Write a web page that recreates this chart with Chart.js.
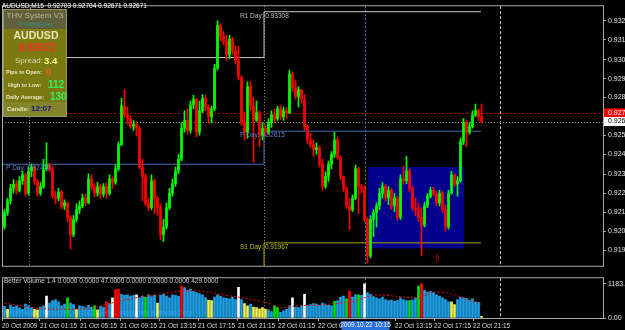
<!DOCTYPE html>
<html>
<head>
<meta charset="utf-8">
<title>AUDUSD,M15</title>
<script src="https://cdn.jsdelivr.net/npm/chart.js@4.4.1/dist/chart.umd.min.js"></script>
<style>
    html, body { margin: 0; padding: 0; background: #000; }
    #wrap { position: relative; width: 625px; height: 330px; overflow: hidden; background: #000; }
    #price-canvas { position: absolute; left: 0; top: 0; }
    #volume-canvas { position: absolute; left: 0; top: 272px; }
</style>
</head>
<body>
<div id="wrap">
    <canvas id="price-canvas" width="625" height="272"></canvas>
    <canvas id="volume-canvas" width="625" height="58"></canvas>
</div>
<script>
// AUDUSD M15 candles, open of each bar = close of the previous one
const firstOpen = 0.92059;
const closes = [
    0.92143, 0.92210, 0.92283, 0.92306, 0.92272, 0.92328, 0.92362, 0.92255, 0.92384, 0.92407,
    0.92323, 0.92255, 0.92294, 0.92396, 0.92418, 0.92396, 0.92238, 0.92227, 0.92261, 0.92182,
    0.92199, 0.92115, 0.92014, 0.92103, 0.92160, 0.92182, 0.92227, 0.92199, 0.92339, 0.92294,
    0.92255, 0.92294, 0.92249, 0.92294, 0.92255, 0.92339, 0.92317, 0.92396, 0.92536, 0.92761,
    0.92710, 0.92688, 0.92643, 0.92654, 0.92632, 0.92407, 0.92351, 0.92199, 0.92171, 0.92328,
    0.92227, 0.92171, 0.92014, 0.92059, 0.92171, 0.92255, 0.92311, 0.92384, 0.92452, 0.92632,
    0.92677, 0.92620, 0.92767, 0.92800, 0.92609, 0.92733, 0.92806, 0.92755, 0.92699, 0.92744,
    0.92980, 0.93227, 0.93165, 0.93137, 0.93059, 0.93149, 0.93081, 0.93025, 0.92930, 0.92665,
    0.92609, 0.92873, 0.92761, 0.92677, 0.92722, 0.92592, 0.92632, 0.92609, 0.92665, 0.92710,
    0.92688, 0.92744, 0.92699, 0.92733, 0.92722, 0.92946, 0.92868, 0.92817, 0.92856, 0.92800,
    0.92643, 0.92564, 0.92536, 0.92508, 0.92519, 0.92424, 0.92294, 0.92351, 0.92424, 0.92480,
    0.92564, 0.92463, 0.92351, 0.92283, 0.92182, 0.92160, 0.92227, 0.92396, 0.92294, 0.92283,
    0.92103, 0.91891, 0.92103, 0.92143, 0.92182, 0.92255, 0.92294, 0.92227, 0.92272, 0.92182,
    0.92227, 0.92115, 0.92339, 0.92328, 0.92384, 0.92283, 0.92171, 0.92160, 0.92115, 0.92070,
    0.92182, 0.92238, 0.92272, 0.92249, 0.92199, 0.92255, 0.92160, 0.92059, 0.92255, 0.92362,
    0.92306, 0.92328, 0.92553, 0.92665, 0.92609, 0.92643, 0.92710, 0.92733, 0.92699, 0.92671,
];
const highs = [
    0.92160, 0.92227, 0.92306, 0.92334, 0.92328, 0.92351, 0.92384, 0.92373, 0.92407, 0.92424,
    0.92413, 0.92334, 0.92317, 0.92452, 0.92547, 0.92429, 0.92413, 0.92266, 0.92283, 0.92272,
    0.92216, 0.92204, 0.92126, 0.92126, 0.92193, 0.92210, 0.92249, 0.92249, 0.92368, 0.92362,
    0.92311, 0.92317, 0.92306, 0.92311, 0.92317, 0.92362, 0.92351, 0.92418, 0.92553, 0.92806,
    0.92856, 0.92755, 0.92705, 0.92677, 0.92671, 0.92643, 0.92452, 0.92368, 0.92227, 0.92362,
    0.92339, 0.92238, 0.92193, 0.92103, 0.92199, 0.92283, 0.92339, 0.92407, 0.92480, 0.92665,
    0.92733, 0.92744, 0.92789, 0.92823, 0.92806, 0.92789, 0.92828, 0.92823, 0.92767, 0.92761,
    0.93003, 0.93255, 0.93239, 0.93194, 0.93171, 0.93171, 0.93160, 0.93109, 0.93109, 0.92935,
    0.92722, 0.92901, 0.92901, 0.92811, 0.92789, 0.92733, 0.92665, 0.92654, 0.92688, 0.92733,
    0.92744, 0.92761, 0.92767, 0.92755, 0.92750, 0.92969, 0.92958, 0.92913, 0.92873, 0.92856,
    0.92828, 0.92649, 0.92603, 0.92564, 0.92547, 0.92530, 0.92452, 0.92379, 0.92441, 0.92497,
    0.92609, 0.92581, 0.92469, 0.92356, 0.92294, 0.92227, 0.92244, 0.92418, 0.92407, 0.92306,
    0.92300, 0.92115, 0.92126, 0.92160, 0.92199, 0.92283, 0.92317, 0.92306, 0.92294, 0.92283,
    0.92255, 0.92238, 0.92362, 0.92413, 0.92469, 0.92396, 0.92294, 0.92227, 0.92199, 0.92171,
    0.92204, 0.92255, 0.92289, 0.92289, 0.92266, 0.92272, 0.92266, 0.92188, 0.92272, 0.92384,
    0.92368, 0.92351, 0.92575, 0.92688, 0.92677, 0.92665, 0.92733, 0.92772, 0.92744, 0.92772,
];
const lows = [
    0.92047, 0.92126, 0.92193, 0.92255, 0.92249, 0.92261, 0.92306, 0.92238, 0.92244, 0.92351,
    0.92306, 0.92238, 0.92244, 0.92283, 0.92384, 0.92379, 0.92227, 0.92193, 0.92210, 0.92165,
    0.92160, 0.92092, 0.91930, 0.92003, 0.92087, 0.92137, 0.92171, 0.92182, 0.92193, 0.92272,
    0.92233, 0.92238, 0.92227, 0.92233, 0.92227, 0.92244, 0.92283, 0.92306, 0.92384, 0.92530,
    0.92694, 0.92654, 0.92632, 0.92620, 0.92586, 0.92396, 0.92210, 0.92182, 0.92154, 0.92160,
    0.92137, 0.92126, 0.91986, 0.91975, 0.92047, 0.92160, 0.92238, 0.92294, 0.92368, 0.92441,
    0.92609, 0.92598, 0.92603, 0.92744, 0.92581, 0.92592, 0.92722, 0.92733, 0.92660, 0.92665,
    0.92733, 0.92969, 0.93137, 0.93115, 0.93025, 0.93036, 0.93059, 0.93003, 0.92913, 0.92649,
    0.92564, 0.92575, 0.92733, 0.92435, 0.92671, 0.92525, 0.92564, 0.92586, 0.92598, 0.92637,
    0.92665, 0.92677, 0.92682, 0.92677, 0.92688, 0.92716, 0.92845, 0.92800, 0.92755, 0.92778,
    0.92620, 0.92541, 0.92519, 0.92469, 0.92480, 0.92407, 0.92272, 0.92283, 0.92323, 0.92396,
    0.92463, 0.92452, 0.92334, 0.92266, 0.92165, 0.92042, 0.92148, 0.92216, 0.92137, 0.92255,
    0.92087, 0.91851, 0.91879, 0.92003, 0.92059, 0.92160, 0.92227, 0.92210, 0.92188, 0.92160,
    0.92148, 0.92098, 0.92103, 0.92306, 0.92311, 0.92266, 0.92154, 0.92126, 0.92092, 0.91891,
    0.92059, 0.92171, 0.92227, 0.92238, 0.92182, 0.92182, 0.92143, 0.92036, 0.92047, 0.92249,
    0.92294, 0.92238, 0.92317, 0.92536, 0.92525, 0.92598, 0.92632, 0.92699, 0.92677, 0.92660,
];

// Better Volume 1.4 (n = normal, y = low, w = churn, r = climax, g = climax low)
const volumes = [
    400, 300, 450, 380, 420, 350, 300, 480, 420, 360,
    300, 280, 380, 420, 760, 520, 600, 640, 560, 420,
    480, 700, 520, 460, 300, 420, 400, 360, 440, 380,
    420, 280, 400, 380, 560, 500, 700, 980, 1000, 820,
    780, 800, 760, 780, 800, 700, 760, 720, 800, 740,
    780, 520, 780, 820, 760, 700, 800, 780, 760, 1120,
    1050, 960, 1000, 920, 880, 840, 800, 700, 620, 600,
    720, 800, 760, 700, 680, 660, 720, 640, 1060, 640,
    500, 420, 480, 380, 360, 320, 360, 300, 280, 220,
    420, 360, 200, 260, 300, 420, 700, 380, 360, 420,
    820, 440, 460, 500, 480, 440, 520, 480, 440, 420,
    580, 600, 720, 760, 660, 930, 720, 800, 800, 780,
    1180, 880, 820, 740, 700, 660, 720, 640, 600, 620,
    580, 600, 700, 640, 600, 600, 620, 700, 1100, 1180,
    960, 900, 920, 880, 800, 760, 700, 640, 560, 560,
    460, 640, 720, 700, 680, 620, 660, 560, 540, 60,
];
const volumeTypes = [
    'n', 'y', 'n', 'n', 'n', 'n', 'n', 'n', 'n', 'n',
    'y', 'y', 'n', 'n', 'w', 'n', 'n', 'n', 'n', 'n',
    'n', 'g', 'n', 'n', 'y', 'n', 'n', 'n', 'n', 'n',
    'g', 'y', 'n', 'n', 'r', 'n', 'w', 'r', 'r', 'n',
    'n', 'n', 'n', 'n', 'w', 'n', 'n', 'g', 'n', 'n',
    'n', 'y', 'n', 'n', 'n', 'n', 'n', 'n', 'n', 'r',
    'n', 'n', 'n', 'n', 'n', 'n', 'n', 'n', 'y', 'y',
    'n', 'n', 'n', 'n', 'n', 'n', 'n', 'n', 'w', 'n',
    'y', 'y', 'n', 'y', 'y', 'y', 'y', 'y', 'n', 'n',
    'g', 'g', 'n', 'n', 'n', 'n', 'w', 'n', 'n', 'n',
    'w', 'n', 'n', 'n', 'n', 'n', 'n', 'n', 'n', 'n',
    'g', 'n', 'n', 'n', 'g', 'r', 'n', 'n', 'g', 'n',
    'w', 'n', 'n', 'n', 'n', 'n', 'n', 'n', 'n', 'n',
    'n', 'n', 'n', 'n', 'n', 'g', 'n', 'n', 'g', 'r',
    'n', 'n', 'n', 'n', 'n', 'n', 'n', 'n', 'n', 'y',
    'y', 'n', 'n', 'n', 'n', 'n', 'n', 'n', 'n', 'y',
];
const volumeAvgBars = [0, 13, 27, 32, 38, 46, 59, 66, 71, 79, 88, 92, 97, 105, 116, 121, 125, 132, 138, 143, 149, 155, 159];
const volumeAvg = [512, 320, 320, 416, 576, 736, 928, 928, 832, 704, 512, 352, 416, 448, 576, 736, 800, 736, 704, 896, 832, 608, 480];

// axis ticks
const priceTicks = [0.93255, 0.93145, 0.93030, 0.92920, 0.92810, 0.92590, 0.92480, 0.92365, 0.92255, 0.92145, 0.92035, 0.91925];
const volumeTicks = [1183.35, 0];
const timeTickBars = [-0.33, 12.33, 25.67, 39, 52, 65, 78.33, 91.67, 105, 130.67, 143.67, 156.67];
const timeLabels = [
    '20 Oct 2009', '21 Oct 01:15', '21 Oct 05:15', '21 Oct 09:15', '21 Oct 13:15', '21 Oct 17:15',
    '21 Oct 21:15', '22 Oct 01:15', '22 Oct 05:15', '22 Oct 13:15', '22 Oct 17:15', '22 Oct 21:15',
];

// daily pivots (yesterday, today)
const pivotNames = ['R1 Day', 'P Day', 'S1 Day'];
const pivotYesterday = [0.93042, 0.92423, 0.91760];
const pivotToday = [0.93308, 0.92615, 0.91967];
const daySplitBar = 87;
const lastBar = 159.33;

// day separators, cursor, shift marker
const separatorBars = [8.67, 87, 120.83, 165.67];
const cursorLabel = '2009.10.22 10:15';
const bidPrice = 0.92671;
const askPrice = 0.92721;
const boxBars = [121.7, 153.7];
const boxPrices = [0.92407, 0.91935];
const arrowBar = 144.7;
const arrowPrice = 0.91873;

const FONT = "'Liberation Sans', Arial, sans-serif";
const BULL = '#00ff00';
const BEAR = '#ff0000';
const volumeColors = { n: '#1ea0e6', y: '#f0f050', w: '#ffffff', r: '#ff0000', g: '#00e000' };
const separatorStyles = [
    { color: '#8c8c8c', dash: [1, 2] },
    { color: '#9c9c6c', dash: [1, 2] },
    { color: '#3c7cc0', dash: [2, 2] },
    { color: '#c8c8c8', dash: [3, 2] },
];

const opens = closes.map((c, i) => (i === 0 ? firstOpen : closes[i - 1]));
const candleColors = closes.map((c, i) => (c >= opens[i] ? BULL : BEAR));

function put(ctx, text, x, y, size, color, opts = {}) {
    ctx.font = `${opts.bold ? 'bold ' : ''}${size}px ${FONT}`;
    ctx.fillStyle = color;
    ctx.textAlign = opts.align || 'left';
    ctx.textBaseline = 'middle';
    ctx.fillText(text, x, y);
}

function drawSeparators(chart) {
    const { ctx, chartArea: area, scales: { x } } = chart;
    ctx.save();
    ctx.lineWidth = 1;
    separatorBars.forEach((bar, i) => {
        const px = Math.round(x.getPixelForValue(bar)) + 0.5;
        ctx.strokeStyle = separatorStyles[i].color;
        ctx.setLineDash(separatorStyles[i].dash);
        ctx.beginPath();
        ctx.moveTo(px, area.top);
        ctx.lineTo(px, area.bottom);
        ctx.stroke();
    });
    ctx.restore();
}

function drawFrame(chart) {
    const { ctx, chartArea: area } = chart;
    ctx.save();
    ctx.strokeStyle = '#a8a8a8';
    ctx.lineWidth = 1;
    ctx.strokeRect(area.left + 0.5, area.top - 0.5, area.right - area.left, area.bottom - area.top + 1);
    ctx.restore();
}

const pivotColors = ['#c8c8c8', '#4a6cb4', '#a8a800'];

const pivotDatasets = pivotNames.map((name, k) => ({
    type: 'line',
    label: name,
    data: [
        { x: -1 / 3, y: pivotYesterday[k] },
        { x: daySplitBar, y: pivotToday[k] },
        { x: lastBar, y: pivotToday[k] },
    ],
    borderColor: pivotColors[k],
    borderWidth: 1,
    pointRadius: 0,
    stepped: true,
    order: 3,
}));

const priceOverlay = {
    id: 'priceOverlay',
    beforeDatasetsDraw(chart) {
        const { ctx, chartArea: area, scales: { x, y } } = chart;
        ctx.save();
        ctx.beginPath();
        ctx.rect(area.left, area.top, area.right - area.left, area.bottom - area.top);
        ctx.clip();

        const bx0 = x.getPixelForValue(boxBars[0]);
        const bx1 = x.getPixelForValue(boxBars[1]);
        const by0 = y.getPixelForValue(boxPrices[0]);
        const by1 = y.getPixelForValue(boxPrices[1]);
        ctx.fillStyle = '#00008c';
        ctx.fillRect(bx0, by0, bx1 - bx0, by1 - by0);
        ctx.restore();

        drawSeparators(chart);

        ctx.save();
        ctx.lineWidth = 1;
        [[askPrice, '#b00000', [2, 2]], [bidPrice, '#8c8c8c', [1, 2]]].forEach(([price, color, dash]) => {
            const py = Math.round(y.getPixelForValue(price)) + 0.5;
            ctx.strokeStyle = color;
            ctx.setLineDash(dash);
            ctx.beginPath();
            ctx.moveTo(area.left, py);
            ctx.lineTo(area.right, py);
            ctx.stroke();
        });
        ctx.restore();
    },
    afterDatasetsDraw(chart) {
        const { ctx, scales: { x, y } } = chart;
        const split = x.getPixelForValue(daySplitBar);
        const labelColors = ['#c0c0c0', '#5f82c8', '#c0c000'];
        pivotNames.forEach((name, k) => {
            put(ctx, `${name}: ${pivotToday[k].toFixed(5)}`, split - 24, y.getPixelForValue(pivotToday[k]) + 4, 6.5, labelColors[k]);
        });
        put(ctx, `P Day: ${pivotYesterday[1].toFixed(5)}`, 6, y.getPixelForValue(pivotYesterday[1]) + 4, 6.5, labelColors[1]);
        put(ctx, '\u21e7', x.getPixelForValue(arrowBar), y.getPixelForValue(arrowPrice), 10, '#e00000', { align: 'center' });
    },
    afterDraw(chart) {
        const { ctx, chartArea: area, scales: { y } } = chart;
        drawFrame(chart);

        // price tags on the axis
        const askY = y.getPixelForValue(askPrice);
        const bidY = y.getPixelForValue(bidPrice);
        ctx.fillStyle = '#ff0000';
        ctx.fillRect(area.right + 1, askY - 4.5, 24, 9);
        put(ctx, askPrice.toFixed(5), area.right + 5, askY, 7, '#ffffff');
        ctx.fillStyle = '#ffffff';
        ctx.fillRect(area.right + 1, bidY - 4.5, 24, 9);
        put(ctx, bidPrice.toFixed(5), area.right + 5, bidY, 7, '#000000');

        // title
        put(ctx, 'AUDUSD,M15  0.92703 0.92704 0.92671 0.92671', 2, 6, 6.5, '#ffffff');

        // THV info panel
        ctx.fillStyle = '#7a7a10';
        ctx.fillRect(3, 9, 64, 108);
        ctx.fillStyle = '#60603c';
        ctx.fillRect(3, 9, 64, 20);
        ctx.fillStyle = '#84842c';
        ctx.fillRect(3, 102, 64, 15);
        ctx.strokeStyle = '#9a9a58';
        ctx.strokeRect(3.5, 9.5, 63, 107);
        put(ctx, 'THV System V3', 35, 15.5, 8, '#b8b890', { align: 'center' });
        put(ctx, '\u00a9 CobraForex', 36, 24, 5.5, '#2aa090', { align: 'center' });
        put(ctx, 'AUDUSD', 36, 36, 10.5, '#e8e8b8', { bold: true, align: 'center' });
        put(ctx, '0.92672', 37, 48, 10, '#ff2a2a', { bold: true, align: 'center' });
        put(ctx, 'Spread:', 43, 61, 8, '#dcdcb4', { align: 'right' });
        put(ctx, '3.4', 44, 61, 9.5, '#ffff7a', { bold: true });
        put(ctx, 'Pips to Open:', 6, 72, 5.5, '#e6e6c8', { bold: true });
        put(ctx, '0', 46, 72, 9.5, '#ff6020', { bold: true });
        put(ctx, 'High to Low:', 8, 85, 5.5, '#e6e6c8', { bold: true });
        put(ctx, '112', 48, 85, 10, '#30f060', { bold: true });
        put(ctx, 'Daily Average:', 6, 97, 5.5, '#e6e6c8', { bold: true });
        put(ctx, '130', 50, 97, 10, '#30f060', { bold: true });
        put(ctx, 'Candle:', 7, 109, 6, '#e6e6c8', { bold: true });
        put(ctx, '12:07', 31, 109, 8, '#141480', { bold: true });
    },
};

const volumeOverlay = {
    id: 'volumeOverlay',
    beforeDatasetsDraw(chart) {
        drawSeparators(chart);
        put(chart.ctx, 'MetaTrader - Alpari UK, \u00a9 2001-2009 MetaQuotes Software Corp.', 4, 41, 6.5, '#8cb4ff');
    },
    afterDraw(chart) {
        const { ctx, scales: { x } } = chart;
        drawFrame(chart);
        put(ctx, 'Better Volume 1.4 0.0000 0.0000 47.0000 0.0000 0.0000 0.0000 429.0000', 4, 9, 6.5, '#d0d0d0');
        const cx = x.getPixelForValue(separatorBars[2]);
        ctx.fillStyle = '#2a70d8';
        ctx.fillRect(cx - 24, 49, 48, 9);
        put(ctx, cursorLabel, cx, 53.5, 6.5, '#ffffff', { align: 'center' });
    },
};

const tickFont = { family: FONT, size: 7 };

new Chart(document.getElementById('price-canvas'), {
    type: 'bar',
    data: {
        datasets: [
            ...pivotDatasets,
            {
                label: 'Wicks',
                data: closes.map((c, i) => ({ x: i + 0.5, y: [lows[i], highs[i]] })),
                backgroundColor: candleColors,
                barThickness: 1,
                order: 2,
            },
            {
                label: 'Bodies',
                data: closes.map((c, i) => ({ x: i + 0.5, y: [opens[i], c] })),
                backgroundColor: candleColors,
                barThickness: 2,
                minBarLength: 1,
                order: 1,
            },
        ],
    },
    options: {
        responsive: false,
        animation: false,
        events: [],
        layout: { padding: { left: 2, top: 2, bottom: 2, right: 0 } },
        plugins: { legend: { display: false }, tooltip: { enabled: false } },
        scales: {
            x: { type: 'linear', min: -1 / 3, max: 200, display: false, stacked: true, offset: false },
            y: {
                type: 'linear',
                position: 'right',
                min: 0.91834,
                max: 0.93340,
                stacked: false,
                afterFit: (axis) => { axis.width = 22; },
                afterBuildTicks: (axis) => { axis.ticks = priceTicks.map((value) => ({ value })); },
                border: { display: true, color: '#a8a8a8' },
                grid: { drawOnChartArea: false, tickLength: 3, color: '#a8a8a8' },
                ticks: {
                    color: '#e0e0e0',
                    font: tickFont,
                    padding: 2,
                    callback: (value) => value.toFixed(5),
                },
            },
        },
    },
    plugins: [priceOverlay],
});

new Chart(document.getElementById('volume-canvas'), {
    type: 'bar',
    data: {
        datasets: [
            {
                type: 'line',
                label: 'Average',
                data: volumeAvgBars.map((bar, i) => ({ x: bar + 0.5, y: volumeAvg[i] })),
                borderColor: '#e01010',
                borderWidth: 1,
                borderDash: [2, 2],
                pointRadius: 0,
                tension: 0.3,
                order: 1,
            },
            {
                label: 'Better Volume',
                data: volumes.map((v, i) => ({ x: i + 0.5, y: v })),
                backgroundColor: volumeTypes.map((t) => volumeColors[t]),
                barThickness: 2,
                order: 2,
            },
        ],
    },
    options: {
        responsive: false,
        animation: false,
        events: [],
        layout: { padding: { left: 2, top: 3, bottom: 0, right: 0 } },
        plugins: { legend: { display: false }, tooltip: { enabled: false } },
        scales: {
            x: {
                type: 'linear',
                min: -1 / 3,
                max: 200,
                stacked: true,
                offset: false,
                afterFit: (axis) => { axis.height = 12; },
                afterBuildTicks: (axis) => { axis.ticks = timeTickBars.map((value) => ({ value })); },
                border: { display: false },
                grid: { drawOnChartArea: false, offset: false, tickLength: 3, color: '#a8a8a8' },
                ticks: {
                    color: '#d8d8d8',
                    font: { family: FONT, size: 6.5 },
                    padding: 1,
                    align: 'start',
                    autoSkip: false,
                    maxRotation: 0,
                    callback: (value, index) => timeLabels[index],
                },
            },
            y: {
                type: 'linear',
                position: 'right',
                min: 0,
                max: 1376,
                stacked: false,
                afterFit: (axis) => { axis.width = 22; },
                afterBuildTicks: (axis) => { axis.ticks = volumeTicks.map((value) => ({ value })); },
                border: { display: true, color: '#a8a8a8' },
                grid: { drawOnChartArea: false, tickLength: 3, color: '#a8a8a8' },
                ticks: {
                    color: '#e0e0e0',
                    font: tickFont,
                    padding: 2,
                    callback: (value) => value.toFixed(2),
                },
            },
        },
    },
    plugins: [volumeOverlay],
});
</script>
</body>
</html>
